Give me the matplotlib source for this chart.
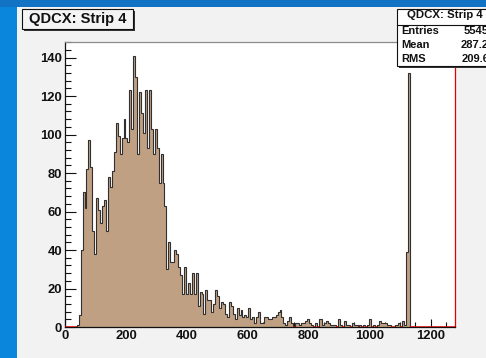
import numpy as np
import matplotlib
matplotlib.use("Agg")
import matplotlib.pyplot as plt
from matplotlib.patches import Rectangle
from matplotlib.lines import Line2D
from matplotlib.ticker import MultipleLocator

# ---------------- data ----------------
x_min, x_max = 0, 1280
n_bins = 200
counts = [
    0, 0, 0, 0, 0, 0, 1, 6, 40, 70,
    62, 82, 97, 83, 50, 38, 67, 61, 54, 63,
    66, 50, 78, 73, 81, 91, 106, 99, 90, 98,
    108, 98, 96, 123, 103, 141, 130, 90, 122, 111,
    101, 123, 93, 123, 103, 90, 103, 93, 75, 90,
    75, 63, 30, 44, 34, 34, 40, 38, 31, 27,
    17, 31, 17, 23, 17, 28, 17, 28, 11, 18,
    17, 7, 19, 14, 14, 8, 12, 19, 16, 10,
    13, 12, 7, 5, 13, 11, 7, 4, 10, 6,
    9, 5, 6, 5, 10, 4, 5, 2, 5, 8,
    2, 2, 5, 5, 4, 4, 5, 5, 6, 8,
    9, 5, 2, 1, 3, 5, 2, 0, 2, 2,
    1, 2, 2, 3, 4, 2, 1, 0, 2, 0,
    4, 4, 1, 2, 3, 2, 1, 1, 1, 0,
    4, 1, 0, 3, 1, 1, 0, 2, 1, 1,
    0, 1, 0, 1, 0, 1, 4, 0, 1, 0,
    1, 3, 2, 2, 2, 1, 1, 0, 0, 1,
    1, 2, 0, 3, 1, 39, 132, 0, 0, 0,
    0, 0, 0, 0, 0, 0, 0, 0, 0, 0,
    0, 0, 0, 0, 0, 0, 0, 0, 0, 0,
]
title = "QDCX: Strip 4"
stat_names = ["Entries", "Mean", "RMS"]
stat_values = ["5545", "287.2", "209.6"]
y_max = 148.1
x_ticks = [0, 200, 400, 600, 800, 1000, 1200]
y_ticks = [0, 20, 40, 60, 80, 100, 120, 140]

# ---------------- figure ----------------
W, H = 486, 358
plt.rcParams["font.family"] = ["Liberation Sans", "DejaVu Sans"]
fig = plt.figure(figsize=(W / 100, H / 100), dpi=100, facecolor="#1272c4")


def fx(x):
    return x / W


def fy(y):
    return 1 - y / H


# blue frame + light grey canvas (behind everything)
fig.patches.append(Rectangle((0, 0), fx(17), fy(7), transform=fig.transFigure,
                             facecolor="#0a86dc", edgecolor="none", zorder=-10))
fig.patches.append(Rectangle((fx(17), 0), 1 - fx(17), fy(7), transform=fig.transFigure,
                             facecolor="#f2f2f2", edgecolor="none", zorder=-10))

ax = fig.add_axes([fx(65), 1 - 327 / H, 390 / W, 285 / H])
ax.set_zorder(1)
ax.set_facecolor("white")

edges = np.linspace(x_min, x_max, n_bins + 1)
vals = np.array(counts, dtype=float)

ax.stairs(vals, edges, fill=True, facecolor="#c0a083", edgecolor="none", zorder=2)
ax.stairs(vals, edges, fill=False, edgecolor="#303030", linewidth=0.8, zorder=3)
zero = vals == 0
ax.hlines(np.zeros(zero.sum()), edges[:-1][zero], edges[1:][zero],
          colors="#e00000", linewidth=1.1, zorder=4)

ax.set_xlim(x_min, x_max)
ax.set_ylim(0, y_max)

ax.set_xticks(x_ticks)
ax.set_yticks(y_ticks)
ax.xaxis.set_minor_locator(MultipleLocator(50))
ax.yaxis.set_minor_locator(MultipleLocator(4))
ax.tick_params(axis="both", which="both", direction="in", top=False, right=False,
               colors="#111111", width=0.8)
ax.tick_params(axis="y", which="major", length=8, pad=2)
ax.tick_params(axis="y", which="minor", length=4.3)
ax.tick_params(axis="x", which="major", length=6, pad=2.5)
ax.tick_params(axis="x", which="minor", length=3.5)
for lab in ax.get_xticklabels() + ax.get_yticklabels():
    lab.set_fontweight("bold")
    lab.set_fontsize(9.4)
    lab.set_color("#111111")

ax.spines["top"].set_color("#8a8a8a")
ax.spines["left"].set_color("#111111")
ax.spines["bottom"].set_color("#111111")
ax.spines["right"].set_color("#e00000")
for s in ax.spines.values():
    s.set_linewidth(0.9)

# ---------------- title box ----------------
fig.patches.append(Rectangle((fx(24), fy(31)), fx(111), 20 / H, transform=fig.transFigure,
                             facecolor="#333333", edgecolor="none", zorder=5))
fig.patches.append(Rectangle((fx(22), fy(29)), fx(111), 20 / H, transform=fig.transFigure,
                             facecolor="#f4f4f4", edgecolor="#111111", linewidth=0.8, zorder=6))
fig.text(fx(77.5), fy(19.5), title, ha="center", va="center", fontsize=10.6,
         fontweight="bold", color="#111111", zorder=7)

# ---------------- stats box ----------------
fig.patches.append(Rectangle((fx(399), fy(68)), 1, 57 / H, transform=fig.transFigure,
                             facecolor="#333333", edgecolor="none", zorder=5))
fig.patches.append(Rectangle((fx(397), fy(66)), 1, 57 / H, transform=fig.transFigure,
                             facecolor="#ffffff", edgecolor="#111111", linewidth=0.8, zorder=6))
fig.lines.append(Line2D([fx(397), 1], [fy(25), fy(25)], transform=fig.transFigure,
                        color="#111111", linewidth=0.8, zorder=7))
fig.text(fx(445), fy(15.5), title, ha="center", va="center", fontsize=8.2,
         fontweight="bold", color="#111111", zorder=8)
for i, (n, v) in enumerate(zip(stat_names, stat_values)):
    yy = fy(31.5 + 14 * i)
    fig.text(fx(401.5), yy, n, ha="left", va="center", fontsize=8.0,
             fontweight="bold", color="#111111", zorder=8)
    fig.text(fx(489), yy, v, ha="right", va="center", fontsize=8.0,
             fontweight="bold", color="#111111", zorder=8)

fig.savefig("out.png", dpi=100, facecolor=fig.get_facecolor())
